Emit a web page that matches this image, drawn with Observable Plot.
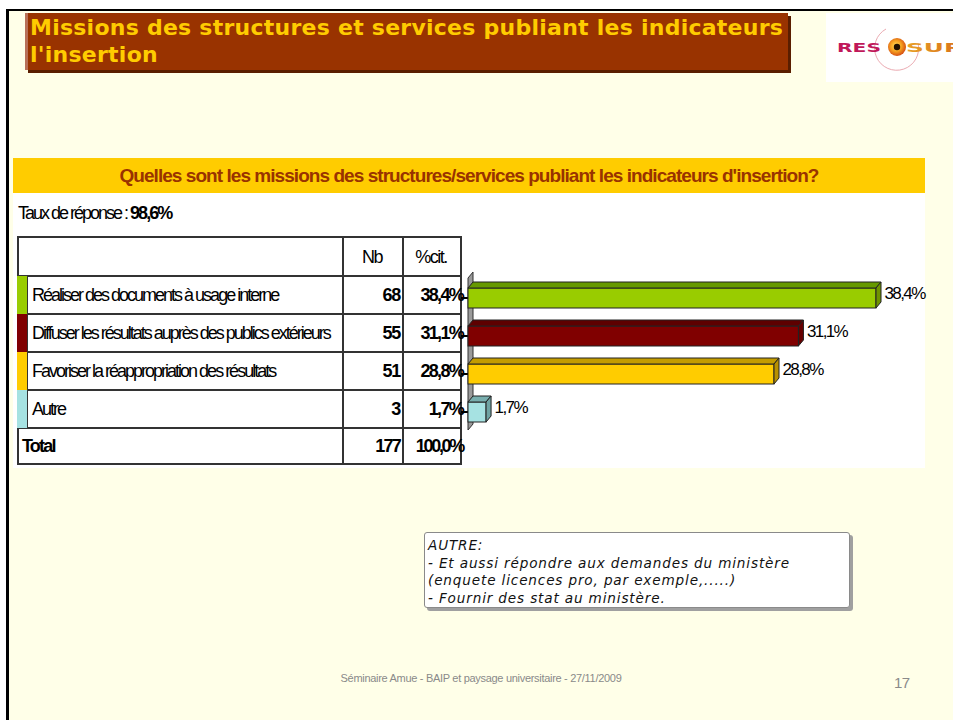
<!DOCTYPE html>
<html><head><meta charset="utf-8">
<script src="https://cdn.jsdelivr.net/npm/d3@7"></script>
<script src="https://cdn.jsdelivr.net/npm/@observablehq/plot@0.6"></script>
<style>
html,body{margin:0;padding:0;background:#fff;width:953px;height:722px;overflow:hidden;font-family:"Liberation Sans",Arial,sans-serif;}
.abs{position:absolute;}
#page{left:6px;top:9px;width:960px;height:711px;background:#FFFFE8;border-left:3px solid #000;border-top:2px solid #000;box-sizing:border-box;}
#titlebox{left:25px;top:13px;width:763px;height:57px;background:#993300;border-left:3px solid #B87058;box-shadow:3px 3px 0 #5A1E00;color:#FFCC00;font-family:"DejaVu Sans",Verdana,sans-serif;font-weight:bold;font-size:22px;line-height:27px;padding:1px 0 0 2px;box-sizing:border-box;white-space:nowrap;letter-spacing:0.25px;}
#logo{left:826px;top:13px;width:127px;height:69px;background:#fff;overflow:hidden;}
#band{left:13px;top:158px;width:912px;height:35px;background:#FFCC00;color:#993300;font-family:"Liberation Sans",Arial,sans-serif;font-weight:bold;font-size:19px;line-height:36px;text-align:center;letter-spacing:-0.95px;white-space:nowrap;}
#white{left:13px;top:193px;width:912px;height:275px;background:#fff;}
#rate{left:18px;top:203px;font-family:"Liberation Sans",Arial,sans-serif;font-size:18px;letter-spacing:-2px;white-space:nowrap;}
.cell{position:absolute;font-family:"Liberation Sans",Arial,sans-serif;font-size:18px;white-space:nowrap;line-height:20px;}
.hl{position:absolute;height:2px;background:#333;}
.vl{position:absolute;width:2px;background:#333;}
#note{left:424px;top:532px;width:426px;height:76px;background:#fff;border:1px solid #8a8a8a;border-radius:3px;box-shadow:3px 3px 0 #a0a0a0;box-sizing:border-box;font-family:"DejaVu Sans",Verdana,sans-serif;font-style:italic;font-size:13.6px;line-height:17.5px;padding:4px 0 0 3px;white-space:nowrap;color:#111;letter-spacing:0.85px;}
#footer{left:241px;top:672px;width:480px;text-align:center;font-family:"Liberation Sans",Arial,sans-serif;font-size:11px;color:#8a8a8a;white-space:nowrap;letter-spacing:-0.3px;}
#pagenum{left:894px;top:674px;font-family:"Liberation Sans",Arial,sans-serif;font-size:15px;color:#8a8a8a;letter-spacing:-0.5px;}
#chart{left:462px;top:232px;}
</style></head><body>
<div id="root"></div>
<script>
// ---------- data ----------
const titleLines = ["Missions des structures et services publiant les indicateurs", "l'insertion"];
const question = "Quelles sont les missions des structures/services publiant les indicateurs d'insertion?";
const rateLabel = "Taux de réponse : ";
const rateValue = "98,6%";
const headers = ["Nb", "%cit."];
const categories = [
  "Réaliser des documents à usage interne",
  "Diffuser les résultats auprès des publics extérieurs",
  "Favoriser la réappropriation des résultats",
  "Autre"
];
const counts = [68, 55, 51, 3];
const percents = [38.4, 31.1, 28.8, 1.7];
const totalLabel = "Total";
const totalCount = 177;
const totalPercent = 100.0;
const frontColors = ["#99CC00", "#800000", "#FFCC00", "#A6E2E2"];
const topColors = ["#669900", "#5E0000", "#C49C00", "#78AEAE"];
const sideColors = ["#6E9400", "#660000", "#B89000", "#6FA3A3"];
const noteLines = ["AUTRE:", "- Et aussi répondre aux demandes du ministère", "(enquete licences pro, par exemple,.....)", "- Fournir des stat au ministère."];
const footerText = "Séminaire Amue - BAIP et paysage universitaire - 27/11/2009";
const pageNumber = "17";

const fmtPct = v => v.toFixed(1).replace(".", ",") + "%";
const root = document.getElementById("root");
function el(id, cls, html) {
  const d = document.createElement("div");
  if (id) d.id = id;
  d.className = cls || "abs";
  if (html != null) d.innerHTML = html;
  root.appendChild(d);
  return d;
}
function box(cls, style, text) {
  const d = document.createElement("div");
  d.className = cls;
  Object.assign(d.style, style);
  if (text != null) d.textContent = text;
  root.appendChild(d);
  return d;
}

el("page", "abs");
el("titlebox", "abs", titleLines.join("<br>"));
el("logo", "abs", `<svg width="127" height="69">
  <defs><radialGradient id="eye" cx="0.45" cy="0.45" r="0.6">
    <stop offset="0" stop-color="#FFE060"/><stop offset="0.5" stop-color="#F5A020"/><stop offset="1" stop-color="#D04010"/></radialGradient>
  <linearGradient id="sur" x1="0" x2="1"><stop offset="0" stop-color="#E8A028"/><stop offset="1" stop-color="#D87018"/></linearGradient></defs>
  <path d="M 60 16 A 22 22 0 1 0 92 30" fill="none" stroke="#E8A0A8" stroke-width="0.9"/>
  <text x="11" y="39" font-family="DejaVu Sans" font-weight="bold" font-size="13" fill="#C0185A" textLength="44" lengthAdjust="spacingAndGlyphs">RES</text>
  <circle cx="71" cy="34" r="9" fill="url(#eye)"/>
  <circle cx="71" cy="34" r="3.2" fill="#201000"/>
  <text x="80" y="39" font-family="DejaVu Sans" font-weight="bold" font-size="13" fill="url(#sur)" textLength="57" lengthAdjust="spacingAndGlyphs">SUR</text>
</svg>`);
el("band", "abs").textContent = question;
el("white", "abs");
el("rate", "abs").innerHTML = rateLabel + "<b>" + rateValue + "</b>";

// ---------- table ----------
const colX = [17, 342, 402, 460];
const rowY = [237, 276, 314, 352, 390, 428, 464];
for (const y of rowY) box("hl", {left: colX[0] + "px", top: (y - 1) + "px", width: (colX[3] - colX[0] + 2) + "px"});
for (const x of colX) box("vl", {left: x + "px", top: (rowY[0] - 1) + "px", height: (rowY[6] - rowY[0] + 2) + "px"});
function rowCenter(r) { return (rowY[r] + rowY[r + 1]) / 2; }
box("cell", {left: colX[1] + "px", width: (colX[2] - colX[1]) + "px", textAlign: "center", top: (rowCenter(0) - 10) + "px", letterSpacing: "-1.5px"}, headers[0]);
box("cell", {left: colX[2] + "px", width: (colX[3] - colX[2]) + "px", textAlign: "center", top: (rowCenter(0) - 10) + "px", letterSpacing: "-1.5px"}, headers[1]);
categories.forEach((c, i) => {
  const r = i + 1;
  box("cell", {left: colX[0] + "px", top: rowY[r] + "px", width: "11px", height: (rowY[r + 1] - rowY[r]) + "px", background: frontColors[i], borderRight: "1px solid #333", boxSizing: "border-box"});
  box("cell", {left: "32px", top: (rowCenter(r) - 10) + "px", letterSpacing: "-2px"}, c);
  box("cell", {left: colX[1] + "px", width: (colX[2] - colX[1] - 2) + "px", textAlign: "right", top: (rowCenter(r) - 10) + "px", fontWeight: "bold", letterSpacing: "-1.2px"}, String(counts[i]));
  box("cell", {left: colX[2] + "px", width: (colX[3] - colX[2] + 3) + "px", textAlign: "right", top: (rowCenter(r) - 10) + "px", fontWeight: "bold", letterSpacing: "-1.7px"}, fmtPct(percents[i]));
});
box("cell", {left: "22px", top: (rowCenter(5) - 10) + "px", fontWeight: "bold", letterSpacing: "-1.8px"}, totalLabel);
box("cell", {left: colX[1] + "px", width: (colX[2] - colX[1] - 2) + "px", textAlign: "right", top: (rowCenter(5) - 10) + "px", fontWeight: "bold", letterSpacing: "-1.8px"}, String(totalCount));
box("cell", {left: colX[2] + "px", width: (colX[3] - colX[2] + 3) + "px", textAlign: "right", top: (rowCenter(5) - 10) + "px", fontWeight: "bold", letterSpacing: "-2.3px"}, fmtPct(totalPercent));

// ---------- 3D bar chart ----------
const rows = categories.map((c, i) => ({cat: c, pct: percents[i], front: frontColors[i], top: topColors[i], side: sideColors[i]}));
const INSET_T = 12, INSET_B = 6, DX = 5, DY = 6;
const wall = (index, scales) => {
  const {x, y} = scales;
  const x0 = x(0), yT = y.range()[0], yB = y.range()[1];
  const g = d3.create("svg:g");
  g.append("polygon")
    .attr("points", [[x0, yT + 2], [x0 + DX, yT - 4], [x0 + DX, yB - 4], [x0, yB + 2]].join(" "))
    .attr("fill", "#9a9a9a").attr("stroke", "#333").attr("stroke-width", 1);
  for (const c of y.domain()) {
    const yc = y(c) + y.bandwidth() / 2 + 3;
    g.append("line").attr("x1", x0 - 7).attr("x2", x0).attr("y1", yc).attr("y2", yc).attr("stroke", "#000").attr("stroke-width", 2);
  }
  return g.node();
};
const faces = (index, scales) => {
  const {x, y} = scales;
  const bw = y.bandwidth();
  const g = d3.create("svg:g");
  for (const r of rows) {
    const x0 = x(0), x1 = x(r.pct), yt = y(r.cat) + INSET_T, yb = y(r.cat) + bw - INSET_B;
    g.append("polygon")
      .attr("points", [[x0, yt], [x0 + DX, yt - DY], [x1 + DX, yt - DY], [x1, yt]].join(" "))
      .attr("fill", r.top).attr("stroke", "#222").attr("stroke-width", 1).attr("stroke-linejoin", "round");
    g.append("polygon")
      .attr("points", [[x1, yt], [x1 + DX, yt - DY], [x1 + DX, yb - DY], [x1, yb]].join(" "))
      .attr("fill", r.side).attr("stroke", "#222").attr("stroke-width", 1).attr("stroke-linejoin", "round");
  }
  return g.node();
};

const chart = Plot.plot({
  width: 463,
  height: 238,
  marginLeft: 6,
  marginRight: 32,
  marginTop: 44,
  marginBottom: 42,
  x: {domain: [0, 40], axis: null},
  y: {domain: categories, axis: null, padding: 0, round: false},
  color: {type: "identity"},
  style: {background: "transparent", fontFamily: "'Liberation Sans',Arial,sans-serif", overflow: "visible"},
  marks: [
    wall,
    Plot.barX(rows, {x: "pct", y: "cat", fill: "front", stroke: "#222", strokeWidth: 1, insetTop: INSET_T, insetBottom: INSET_B}),
    faces,
    Plot.text(rows, {x: "pct", y: "cat", text: d => fmtPct(d.pct), textAnchor: "start", dx: 8, dy: -2, fontSize: 17, fill: "#000"})
  ]
});
const holder = el("chart", "abs");
holder.appendChild(chart);
d3.select(chart).selectAll("text").style("letter-spacing", "-1.6px");

// ---------- note & footer ----------
el("note", "abs", noteLines.join("<br>"));
el("footer", "abs").textContent = footerText;
el("pagenum", "abs").textContent = pageNumber;
</script>
</body></html>
